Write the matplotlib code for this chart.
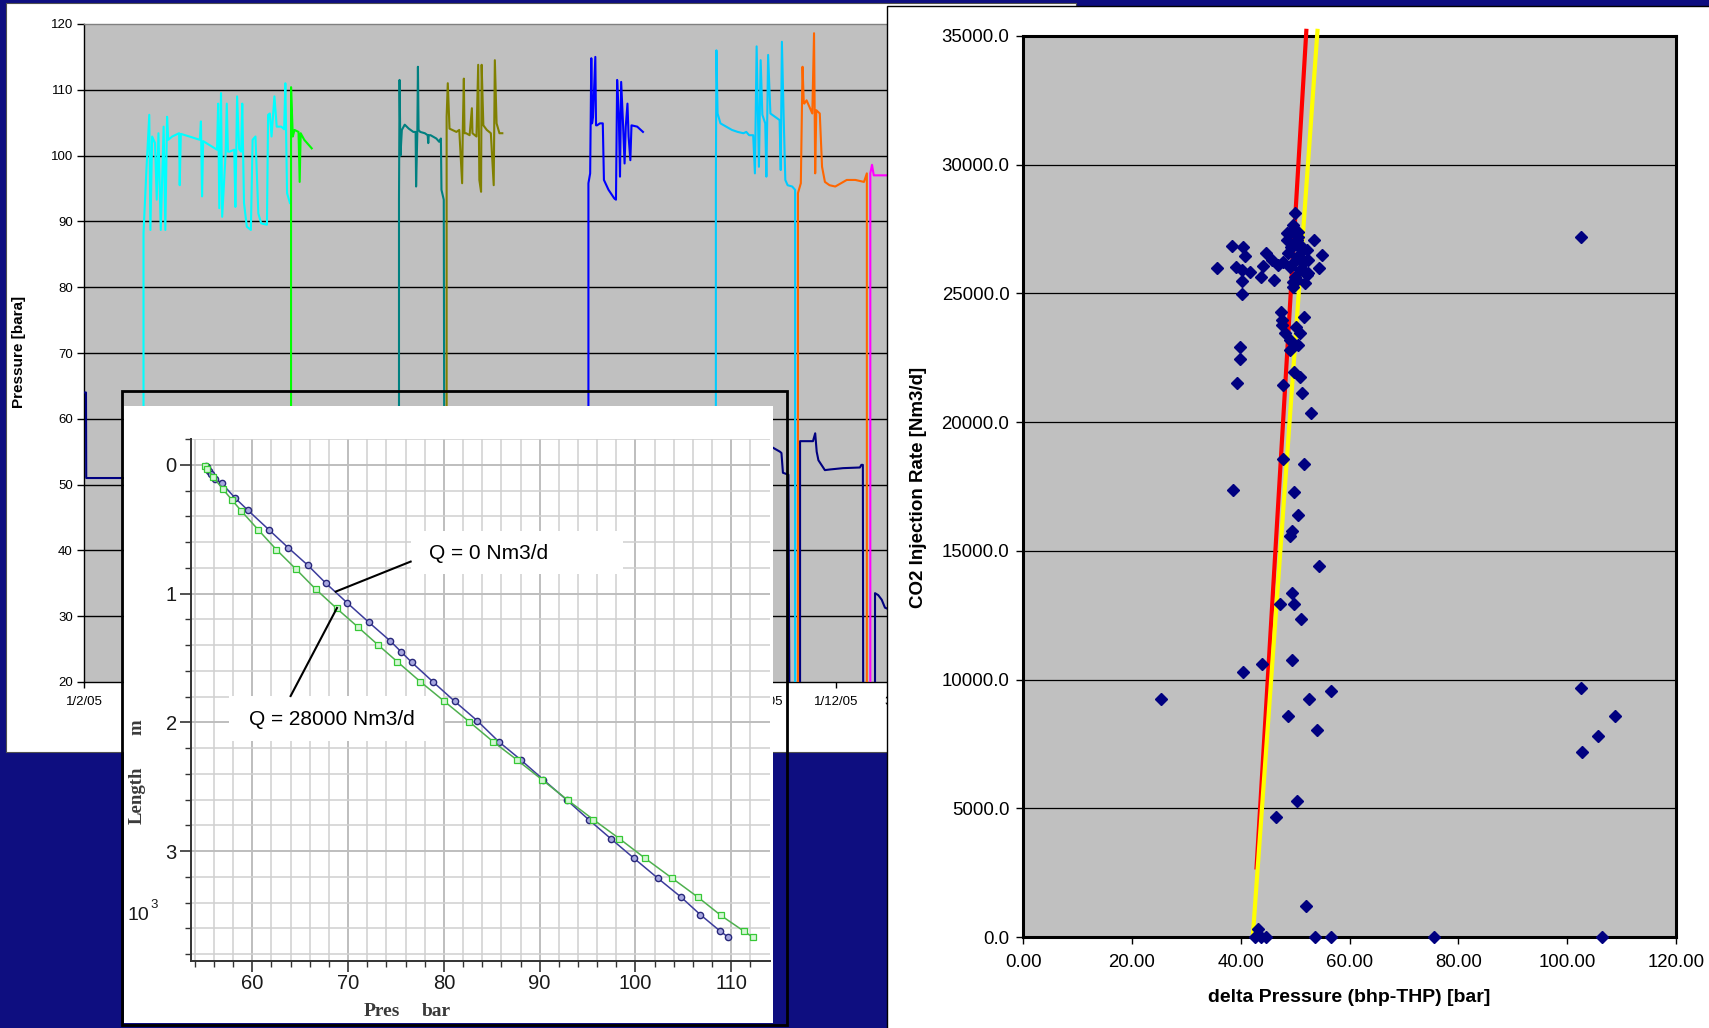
import numpy as np
import matplotlib
matplotlib.use("Agg")
import matplotlib.pyplot as plt
from matplotlib.patches import Rectangle
from matplotlib.ticker import FormatStrFormatter

plt.rcParams['font.family'] = ['Liberation Sans', 'DejaVu Sans']

# ---------------- data: pressure history (days since 1/2/05, bara) ----------------
date_tick_days = [0, 28, 59, 89, 120, 150, 181, 212, 242, 273, 303, 333]
date_tick_labels = ["1/2/05", "1/3/05", "1/4/05", "1/5/05", "1/6/05", "1/7/05",
                    "1/8/05", "1/9/05", "1/10/05", "1/11/05", "1/12/05", "31/12/05"]
pressure_ticks = [20, 30, 40, 50, 60, 70, 80, 90, 100, 110, 120]

navy_day = [0, 0.8, 0.9, 16.5, np.nan, 277.6, 280.4, 281.0, 281.6, 283.8, 284.4, 288.5, 288.5,
            293.7, 294.6, 295.2, 295.9, 298.5, 300.6, 305.8, 312.6, 313.2, 313.8, 314.0,
            318.7, 318.7, 320.0, 321.4, 322.7, 324.5]
navy_p = [64, 64, 51, 51, np.nan, 55.6, 55.0, 54.8, 51.8, 51.5, 0, 0, 56.6,
          56.6, 57.8, 55.0, 53.7, 52.2, 52.3, 52.5, 52.6, 53.0, 53.0, 0,
          0, 33.5, 33.2, 32.5, 31.3, 31.0]

cyan_day = [23.98, 23.98, 25.14, 26.30, 26.76, 27.45, 28.61, 29.30, 29.99, 30.92, 32.08, 32.77,
            33.47, 33.93, 35.55, 38.32, 38.56, 39.02, 42.49, 46.65, 47.11, 47.57, 48.0, 50.58,
            53.59, 54.05, 54.51, 55.21, 55.67, 57.06, 57.52, 58.0, 58.68, 60.53, 60.99, 61.68,
            62.5, 63.30, 63.76, 64.46, 65.61, 67.23, 67.93, 69.08, 70.24, 71.40, 73.71, 74.17,
            74.87, 75.56, 76.72, 77.64, 79.49, 80.65, 81.11, 81.81, 82.96]
cyan_p = [0, 88.2, 97.8, 106.2, 88.7, 102.9, 101.9, 93.3, 103.4, 88.7, 104.4, 88.7,
          105.9, 102.4, 102.9, 103.4, 95.5, 103.3, 102.9, 102.4, 105.2, 93.8, 102.2, 101.6,
          100.9, 107.9, 92.0, 109.5, 90.7, 100.3, 107.9, 100.6, 100.6, 100.9, 92.2, 109.0,
          101.0, 100.6, 107.9, 92.8, 89.2, 88.7, 102.4, 102.9, 91.2, 89.7, 89.5, 106.2,
          106.4, 102.9, 109.0, 104.4, 104.4, 104.0, 111.0, 94.3, 92.8]

green_day = [83.42, 83.42, 84.12, 84.81, 86.43, 86.89, 87.3, 88.74, 91.06, 91.75]
green_p = [0, 110.4, 102.9, 103.9, 103.6, 96.0, 103.4, 102.4, 101.4, 101.1]

teal_day = [126.91, 126.91, 127.14, 127.5, 128.06, 129.22, 130.84, 132.69, 133.61, 133.8, 134.3,
            134.54, 134.8, 135.46, 137.31, 138.47, 138.70, 138.9, 139.63, 141.94, 143.10, 143.79,
            144.02, 144.95, 145.41]
teal_p = [0, 93.3, 111.5, 100.0, 103.9, 104.7, 104.1, 103.6, 103.6, 95.3, 103.5,
          113.5, 103.9, 103.6, 103.4, 103.1, 101.9, 103.1, 103.1, 102.6, 102.1, 102.6,
          94.8, 93.3, 0]

olive_day = [146.10, 146.10, 146.57, 147.26, 150.04, 151.19, 152.35, 152.6, 153.04, 153.3, 153.97,
             155.36, 156.28, 156.51, 158.13, 158.82, 159.29, 159.98, 160.21, 160.90, 162.29,
             163.92, 165.07, 165.53, 166.23, 167.38, 168.54]
olive_p = [0, 105.9, 111.0, 104.1, 103.6, 103.9, 95.8, 103.6, 111.7, 103.4, 103.4,
           103.1, 107.2, 103.4, 102.9, 113.8, 96.3, 94.5, 113.8, 104.6, 103.9,
           103.4, 95.5, 114.5, 104.9, 103.4, 103.4]

blue_day = [203.23, 203.23, 203.93, 204.39, 204.7, 205.08, 206.01, 206.3, 206.70, 207.86, 209.02,
            209.48, 211.33, 213.64, 214.33, 214.80, 215.49, 215.95, 216.42, 217.11, 217.80,
            218.27, 218.96, 219.42, 220.12, 220.58, 222.89, 225.21]
blue_p = [0, 95.8, 97.3, 114.8, 104.9, 105.9, 115.0, 104.6, 104.6, 104.9, 104.9,
          96.3, 94.8, 93.5, 93.3, 111.5, 105.9, 96.8, 111.2, 105.4, 98.8,
          104.4, 107.9, 102.9, 99.3, 104.6, 104.4, 103.6]

sky_day = [254.58, 254.58, 254.8, 255.27, 256.43, 258.74, 261.06, 263.37, 265.68, 266.84, 267.99,
           269.61, 270.31, 271.00, 271.93, 272.62, 273.31, 274.47, 274.93, 275.63, 276.55,
           278.40, 280.25, 280.71, 281.18, 281.87, 282.56, 283.49, 285.34, 286.50, 286.50]
sky_p = [0, 95.8, 116.0, 106.4, 104.9, 104.4, 103.9, 103.6, 103.4, 103.6, 103.1,
         103.1, 97.3, 116.6, 98.3, 114.5, 106.2, 104.9, 96.8, 115.3, 106.4,
         105.9, 105.4, 97.8, 117.3, 106.2, 96.3, 95.5, 95.3, 94.8, 0]

orange_day = [287.65, 287.65, 288.81, 289.50, 290.0, 290.20, 291.12, 292.28, 293.43, 294.13,
              294.59, 295.05, 296.44, 297.36, 298.52, 300.37, 302.68, 305.00, 307.31, 310.78,
              314.25, 315.41, 315.41]
orange_p = [0, 94.3, 95.8, 113.5, 108.0, 107.9, 108.4, 107.4, 106.4, 118.6,
            97.3, 106.9, 106.4, 98.3, 96.0, 95.5, 95.3, 95.8, 96.3, 96.3,
            96.0, 97.3, 0]

magenta_day = [316.80, 316.80, 317.49, 318.19, 320.04, 323.50, 326.0]
magenta_p = [0, 97.3, 98.6, 97.0, 97.0, 97.0, 97.0]

series = [
    (navy_day, navy_p, '#000080'),
    (cyan_day, cyan_p, '#00FFFF'),
    (green_day, green_p, '#00FF00'),
    (teal_day, teal_p, '#008080'),
    (olive_day, olive_p, '#808000'),
    (blue_day, blue_p, '#0000FF'),
    (sky_day, sky_p, '#00CCFF'),
    (orange_day, orange_p, '#FF6600'),
    (magenta_day, magenta_p, '#FF00FF'),
]

# ---------------- data: inset pressure profile (bar vs length in 10^3 m) ----------------
q0_pres = [55.15, 55.3, 55.51, 55.7, 56.14, 56.81, 58.16, 59.55, 61.75, 63.73, 65.79, 67.68,
           69.87, 72.16, 74.41, 75.53, 76.65, 78.85, 81.14, 83.47, 85.72, 88.05, 90.39,
           92.81, 95.10, 97.43, 99.86, 102.32, 104.75, 106.77, 108.83, 109.69]
q0_len = [0.006, 0.02, 0.045, 0.07, 0.108, 0.143, 0.255, 0.354, 0.506, 0.643, 0.780, 0.920,
          1.070, 1.223, 1.369, 1.452, 1.535, 1.685, 1.838, 1.987, 2.150, 2.293, 2.446,
          2.602, 2.755, 2.904, 3.057, 3.210, 3.357, 3.494, 3.621, 3.669]
q28_pres = [55.02, 55.3, 55.92, 56.95, 57.85, 58.83, 60.63, 62.51, 64.58, 66.60, 68.80, 71.04,
            73.11, 75.13, 77.55, 80.06, 82.62, 85.13, 87.65, 90.25, 92.94, 95.59, 98.33,
            101.02, 103.81, 106.50, 108.92, 111.35, 112.24]
q28_len = [0.006, 0.03, 0.096, 0.191, 0.271, 0.357, 0.506, 0.659, 0.812, 0.965, 1.115, 1.261,
           1.398, 1.529, 1.685, 1.838, 1.994, 2.150, 2.293, 2.446, 2.605, 2.755, 2.904,
           3.057, 3.210, 3.357, 3.500, 3.624, 3.669]
inset_xticks = [60, 70, 80, 90, 100, 110]
inset_yticks = [0, 1, 2, 3]

# ---------------- data: injection rate vs delta pressure ----------------
dp = [49.97, 49.66, 48.44, 50.57, 53.52, 54.99, 54.44, 52.12, 50.28, 49.66, 38.33, 40.46, 40.77,
      35.57, 39.12, 40.16, 41.69, 40.22, 40.22, 43.71, 44.02, 44.64, 45.68, 46.90, 46.16, 47.82,
      49.05, 51.50, 52.12, 51.20, 50.28, 49.36, 48.44, 50.89, 52.42, 49.66,
      49.05, 50.28, 51.2, 49.66, 50.89, 51.5, 48.75, 50.0, 51.8, 49.2, 52.4, 50.6,
      47.34, 47.52, 47.52, 51.68, 48.13, 50.09, 50.89, 50.57, 49.05, 49.05, 39.85, 39.85, 39.36,
      49.78, 50.89, 47.82, 51.20,
      52.89, 47.74, 51.63, 38.50, 49.78, 50.46, 49.49, 49.00, 54.35, 49.49, 47.25, 49.78, 51.14,
      49.49, 43.95, 40.45, 25.38, 56.59, 52.50, 48.61, 54.06, 102.48, 108.80, 105.69, 102.77,
      102.48, 50.27, 46.47, 51.92, 43.17, 42.68, 43.65, 44.63, 53.57, 56.59, 75.45, 106.37]
rate = [28116, 27661, 27338, 27400, 27078, 26496, 25979, 25719, 25525, 25266, 26846, 26795, 26457,
        25979, 26041, 25913, 25847, 25497, 24981, 25629, 26068, 26561, 26302, 26108, 25525, 26236,
        26041, 26173, 26690, 26818, 26430, 26818, 27078, 25913, 25785, 25460,
        27400, 27078, 26690, 26173, 26430, 25913, 26561, 25650, 25400, 26818, 26300, 27200,
        24293, 23970, 23775, 24075, 23453, 23710, 23453, 22998, 23192, 22804, 22907, 22441, 21509,
        21962, 21744, 21446, 21146,
        20367, 18566, 18359, 17362, 17297, 16391, 15761, 15577, 14426, 13380, 12922, 12922, 12334,
        10777, 10594, 10306, 9260, 9561, 9260, 8580, 8056, 9691, 8580, 7821, 7193,
        27178, 5270, 4656, 1189, 300, 0, 0, 0, 0, 0, 0, 0]
red_dp = [42.9, 52.05]
red_rate = [2700, 35200]
yellow_dp = [42.2, 54.1]
yellow_rate = [0, 35200]

# ---------------- layout ----------------
W, H = 1709, 1028
fig = plt.figure(figsize=(W / 100, H / 100), dpi=100, facecolor='#0E0E80')


def box(x0, y0, x1, y1):
    return [x0 / W, 1 - y1 / H, (x1 - x0) / W, (y1 - y0) / H]


def panel(x0, y0, x1, y1, **kw):
    fig.add_artist(Rectangle((x0 / W, 1 - y1 / H), (x1 - x0) / W, (y1 - y0) / H,
                             transform=fig.transFigure, **kw))


def ftext(x, y, s, **kw):
    return fig.text(x / W, 1 - y / H, s, **kw)


# left white panel
panel(6, 3, 1076, 752, facecolor='white', edgecolor='#505050', lw=0.8, zorder=1)

# ---- left: pressure history ----
ax1 = fig.add_axes(box(84, 24, 1050, 682), zorder=2)
ax1.set_facecolor('#C0C0C0')
ax1.set_xlim(0, 389.2)
ax1.set_ylim(20, 120)
for v in pressure_ticks[1:-1]:
    ax1.axhline(v, color='black', lw=1.0, zorder=1)
for d, p, c in series:
    ax1.plot(d, p, color=c, lw=1.5, zorder=3)
ax1.set_yticks(pressure_ticks)
ax1.set_xticks(date_tick_days)
ax1.set_xticklabels(date_tick_labels)
ax1.tick_params(axis='y', direction='out', length=5, width=1, labelsize=9.5, pad=3)
ax1.tick_params(axis='x', direction='out', length=4, width=1, labelsize=9.5, pad=6)
ax1.spines['right'].set_visible(False)
ax1.spines['top'].set_color('#808080')
ax1.spines['top'].set_linewidth(1)
for s in ('left', 'bottom'):
    ax1.spines[s].set_color('black')
    ax1.spines[s].set_linewidth(1)
ftext(19, 352, 'Pressure [bara]', rotation=90, ha='center', va='center',
      fontsize=11, fontweight='bold', zorder=2.5)

# ---- inset picture ----
panel(124, 406, 773, 1023, facecolor='white', edgecolor='none', zorder=3)
panel(122, 391, 787, 1025, facecolor='none', edgecolor='black', lw=2.0, zorder=3.2)

axi = fig.add_axes(box(190.7, 439.0, 769.5, 961.3), zorder=4)
axi.set_facecolor('none')
axi.set_xlim(53.57, 113.99)
axi.set_ylim(3.856, -0.169)
axi.set_xticks(inset_xticks)
axi.set_xticks(np.arange(54, 114, 2), minor=True)
axi.set_yticks(inset_yticks)
axi.set_yticks(np.arange(-0.2, 3.85, 0.2), minor=True)
axi.grid(which='minor', color='#D0D0D0', lw=1.1, zorder=0)
axi.grid(which='major', color='#BEBEBE', lw=1.4, zorder=0)
axi.set_axisbelow(True)
axi.tick_params(which='major', direction='out', length=8, width=1.2, labelsize=14.5,
                color='#333333', labelcolor='#1A1A1A')
axi.tick_params(axis='x', which='major', pad=1)
axi.tick_params(axis='y', which='major', pad=2)
axi.tick_params(which='minor', direction='out', length=4.5, width=1.0, color='#333333')
for s in ('top', 'right'):
    axi.spines[s].set_visible(False)
for s in ('left', 'bottom'):
    axi.spines[s].set_color('#333333')
    axi.spines[s].set_linewidth(1.4)

axi.add_patch(Rectangle((76.53, 0.516), 22.16, 0.331, facecolor='white', edgecolor='none', zorder=1.8))
axi.add_patch(Rectangle((57.54, 1.796), 22.38, 0.351, facecolor='white', edgecolor='none', zorder=1.8))
axi.plot(q0_pres, q0_len, color='#3C3C9C', lw=1.1, marker='o', ms=4.5,
         mfc='#A8A8E0', mec='#28287A', mew=1.0, zorder=3)
axi.plot(q28_pres, q28_len, color='#4FB04F', lw=1.1, marker='s', ms=4.3,
         mfc='#D6F6D6', mec='#36C836', mew=0.9, zorder=3)
axi.plot([76.53, 68.71], [0.752, 0.985], color='black', lw=1.5, zorder=4)
axi.plot([64.0, 68.84], [1.796, 1.112], color='black', lw=1.5, zorder=4)
axi.text(78.45, 0.691, 'Q = 0 Nm3/d', fontsize=15, ha='left', va='center', zorder=5)
axi.text(59.64, 1.981, 'Q = 28000 Nm3/d', fontsize=15, ha='left', va='center', zorder=5)

ftext(138.3, 915, '10', fontsize=14, ha='center', va='center', color='#1A1A1A', zorder=5)
ftext(154, 905, '3', fontsize=9.5, ha='center', va='center', color='#1A1A1A', zorder=5)
ftext(137.3, 795, 'Length', rotation=90, ha='center', va='center', fontsize=13.5,
      family=['Liberation Serif', 'DejaVu Serif'], fontweight='bold', color='#3A3A3A', zorder=5)
ftext(137.3, 727, 'm', rotation=90, ha='center', va='center', fontsize=13.5,
      family=['Liberation Serif', 'DejaVu Serif'], fontweight='bold', color='#3A3A3A', zorder=5)
ftext(382, 1011, 'Pres', ha='center', va='center', fontsize=14,
      family=['Liberation Serif', 'DejaVu Serif'], fontweight='bold', color='#3A3A3A', zorder=5)
ftext(436.4, 1011, 'bar', ha='center', va='center', fontsize=14,
      family=['Liberation Serif', 'DejaVu Serif'], fontweight='bold', color='#3A3A3A', zorder=5)

# ---- right panel: scatter ----
panel(887, 6, 1720, 1040, facecolor='white', edgecolor='black', lw=1.0, zorder=6)

ax2 = fig.add_axes(box(1023.3, 36, 1675.8, 937), zorder=7)
ax2.set_facecolor('#C0C0C0')
ax2.set_xlim(0, 120)
ax2.set_ylim(0, 35000)
for v in range(5000, 35000, 5000):
    ax2.axhline(v, color='black', lw=0.9, zorder=1)
ax2.plot(red_dp, red_rate, color='#FF0000', lw=3, clip_on=False, zorder=3)
ax2.plot(yellow_dp, yellow_rate, color='#FFFF00', lw=3, clip_on=False, zorder=3.2)
ax2.plot(dp, rate, linestyle='none', marker='D', ms=5.7, color='#000080',
         mec='#000080', clip_on=False, zorder=4)
ax2.set_xticks(np.arange(0, 121, 20))
ax2.set_yticks(np.arange(0, 35001, 5000))
ax2.xaxis.set_major_formatter(FormatStrFormatter('%.2f'))
ax2.yaxis.set_major_formatter(FormatStrFormatter('%.1f'))
ax2.tick_params(axis='y', direction='out', length=5, width=1, labelsize=13.4, pad=5)
ax2.tick_params(axis='x', direction='out', length=5, width=1, labelsize=13.4, pad=7)
for s in ax2.spines.values():
    s.set_color('black')
    s.set_linewidth(2.2)
ftext(919, 487, 'CO2 Injection Rate [Nm3/d]', rotation=90, ha='center', va='center',
      fontsize=13.5, fontweight='bold', zorder=8)
ftext(1349, 997, 'delta Pressure (bhp-THP) [bar]', ha='center', va='center',
      fontsize=14, fontweight='bold', zorder=8)

fig.savefig('out.png', dpi=100, facecolor=fig.get_facecolor())
